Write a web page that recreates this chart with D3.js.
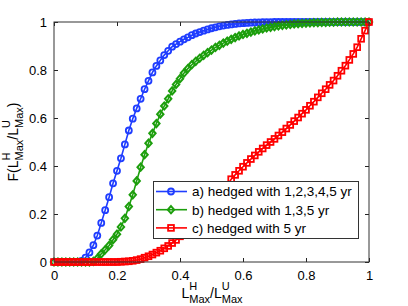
<!DOCTYPE html>
<html><head><meta charset="utf-8">
<script src="https://cdn.jsdelivr.net/npm/d3@7/dist/d3.min.js"></script>
<style>body{margin:0;background:#fff}svg{display:block}text{font-family:"Liberation Sans",Arial,Helvetica,sans-serif}</style>
</head><body><svg id="c" width="408" height="306"></svg>
<script>
const xs = [0,0.0125,0.025,0.0375,0.05,0.0625,0.075,0.0875,0.1,0.1125,0.125,0.1375,0.15,0.1625,0.175,0.1875,0.2,0.2125,0.225,0.2375,0.25,0.2625,0.275,0.2875,0.3,0.3125,0.325,0.3375,0.35,0.3625,0.375,0.3875,0.4,0.4125,0.425,0.4375,0.45,0.4625,0.475,0.4875,0.5,0.5125,0.525,0.5375,0.55,0.5625,0.575,0.5875,0.6,0.6125,0.625,0.6375,0.65,0.6625,0.675,0.6875,0.7,0.7125,0.725,0.7375,0.75,0.7625,0.775,0.7875,0.8,0.8125,0.825,0.8375,0.85,0.8625,0.875,0.8875,0.9,0.9125,0.925,0.9375,0.95,0.9625,0.975,0.9875,1];
const blueY = [0,0,0,0,0,0,0,0.005,0.018,0.04,0.07,0.11,0.163,0.216,0.27,0.328,0.38,0.432,0.49,0.548,0.597,0.64,0.68,0.72,0.755,0.79,0.817,0.84,0.862,0.88,0.897,0.908,0.918,0.928,0.936,0.945,0.952,0.958,0.964,0.969,0.974,0.978,0.982,0.985,0.988,0.99,0.992,0.994,0.995,0.996,0.997,0.998,0.998,0.999,0.999,0.999,1,1,1,1,1,1,1,1,1,1,1,1,1,1,1,1,1,1,1,1,1,1,1,1,1];
const greenY = [0,0,0,0,0,0,0,0,0,0,0.003,0.015,0.034,0.051,0.069,0.093,0.116,0.146,0.182,0.231,0.28,0.338,0.395,0.447,0.495,0.536,0.577,0.616,0.65,0.68,0.713,0.74,0.764,0.787,0.806,0.822,0.836,0.849,0.861,0.872,0.883,0.894,0.903,0.912,0.92,0.928,0.935,0.942,0.948,0.953,0.958,0.963,0.967,0.971,0.975,0.978,0.981,0.984,0.986,0.988,0.99,0.992,0.993,0.994,0.995,0.996,0.997,0.997,0.998,0.998,0.999,0.999,1,1,1,1,1,1,1,1,1];
const redY = [0,0,0,0,0,0,0,0,0,0,0,0,0,0,0,0,0,0.001,0.002,0.003,0.005,0.008,0.012,0.018,0.024,0.031,0.039,0.047,0.057,0.067,0.079,0.092,0.107,0.125,0.143,0.16,0.178,0.196,0.214,0.232,0.25,0.267,0.285,0.302,0.32,0.345,0.363,0.38,0.397,0.413,0.429,0.444,0.459,0.473,0.487,0.5,0.513,0.527,0.541,0.556,0.571,0.587,0.602,0.618,0.634,0.651,0.668,0.686,0.703,0.72,0.738,0.756,0.776,0.797,0.818,0.842,0.867,0.895,0.93,0.964,1];
const tickValues = [0,0.2,0.4,0.6,0.8,1];
const tickLabels = ["0","0.2","0.4","0.6","0.8","1"];
const seriesNames = ["a) hedged with 1,2,3,4,5 yr","b) hedged with 1,3,5 yr","c) hedged with 5 yr"];

const svg = d3.select("#c");
const L=54,R=369,T=22,B=262;
const x = d3.scaleLinear([0,1],[L,R]);
const y = d3.scaleLinear([0,1],[B,T]);
const fmt = (d,i)=>tickLabels[i];

function styleAxis(g){
  g.select(".domain").remove();
  g.selectAll(".tick line").attr("stroke","#222");
  g.selectAll(".tick text").attr("fill","#000").style("font-size","13px");
}
svg.append("g").attr("transform",`translate(0,${B})`)
  .call(d3.axisBottom(x).tickValues(tickValues).tickFormat(fmt).tickSizeInner(-4).tickSizeOuter(0).tickPadding(9)).call(styleAxis);
svg.append("g").attr("transform",`translate(0,${T})`)
  .call(d3.axisTop(x).tickValues(tickValues).tickFormat("").tickSizeInner(-4).tickSizeOuter(0)).call(styleAxis);
svg.append("g").attr("transform",`translate(${L},0)`)
  .call(d3.axisLeft(y).tickValues(tickValues).tickFormat(fmt).tickSizeInner(-4).tickSizeOuter(0).tickPadding(7)).call(styleAxis);
svg.append("g").attr("transform",`translate(${R},0)`)
  .call(d3.axisRight(y).tickValues(tickValues).tickFormat("").tickSizeInner(-4).tickSizeOuter(0)).call(styleAxis);

const series = [
  {name:seriesNames[0], ys:blueY, color:"#1f3dff", marker:"circle"},
  {name:seriesNames[1], ys:greenY, color:"#1c9e0c", marker:"diamond"},
  {name:seriesNames[2], ys:redY, color:"#ff0000", marker:"square"}
];
const line = d3.line().x(d=>x(d[0])).y(d=>y(d[1]));
function drawMarker(g, type, color){
  if(type==="circle") g.append("circle").attr("r",3).attr("fill","none").attr("stroke",color).attr("stroke-width",1.8);
  else if(type==="diamond") g.append("path").attr("d","M0,-3.6L3.2,0L0,3.6L-3.2,0Z").attr("fill","none").attr("stroke",color).attr("stroke-width",2);
  else g.append("rect").attr("x",-2.9).attr("y",-2.9).attr("width",5.8).attr("height",5.8).attr("fill","none").attr("stroke",color).attr("stroke-width",1.8);
}
const plot = svg.append("g");
series.forEach(s=>{
  const pts = xs.map((v,i)=>[v,s.ys[i]]);
  plot.append("path").attr("d",line(pts)).attr("fill","none").attr("stroke",s.color).attr("stroke-width",1.6);
  pts.forEach(p=>{
    const g = plot.append("g").attr("transform",`translate(${x(p[0])},${y(p[1])})`);
    drawMarker(g,s.marker,s.color);
  });
});

// frame
svg.append("rect").attr("x",L).attr("y",T).attr("width",R-L).attr("height",B-T)
  .attr("fill","none").attr("stroke","#333").attr("stroke-width",1);

// legend
const lg = svg.append("g");
lg.append("rect").attr("x",153.5).attr("y",181.5).attr("width",205).attr("height",57)
  .attr("fill","#fff").attr("stroke","#333").attr("stroke-width",1);
series.forEach((s,i)=>{
  const yy = 191.5 + i*18.2;
  lg.append("line").attr("x1",156).attr("x2",187).attr("y1",yy).attr("y2",yy).attr("stroke",s.color).attr("stroke-width",1.6);
  const g = lg.append("g").attr("transform",`translate(171,${yy})`);
  drawMarker(g,s.marker,s.color);
  lg.append("text").attr("x",192).attr("y",yy).attr("dy","0.36em").style("font-size","13.5px").text(s.name);
});

// math labels
function mathLabel(g, parts, fs, sfs, supDy, subDy){
  let cx=0;
  parts.forEach(p=>{
    if(p.t!==undefined){
      const t=g.append("text").attr("x",cx).attr("y",0).style("font-size",fs+"px").text(p.t);
      cx+=t.node().getComputedTextLength();
    } else {
      const a=g.append("text").attr("x",cx).attr("y",supDy).style("font-size",sfs+"px").text(p.sup);
      const b=g.append("text").attr("x",cx).attr("y",subDy).style("font-size",sfs+"px").text(p.sub);
      cx+=Math.max(a.node().getComputedTextLength(),b.node().getComputedTextLength());
    }
  });
  g.selectAll("text").attr("x",function(){return +d3.select(this).attr("x")-cx/2;});
}
const xl = svg.append("g").attr("transform","translate(212,298)");
mathLabel(xl,[{t:"L"},{sup:"H",sub:"Max"},{t:"/L"},{sup:"U",sub:"Max"}],14,11,-8.5,4.5);
const yl = svg.append("g").attr("transform","translate(18,142) rotate(-90)");
mathLabel(yl,[{t:"F(L"},{sup:"H",sub:"Max"},{t:"/L"},{sup:"U",sub:"Max"},{t:")"}],14,11,-8.5,4.5);
</script></body></html>
